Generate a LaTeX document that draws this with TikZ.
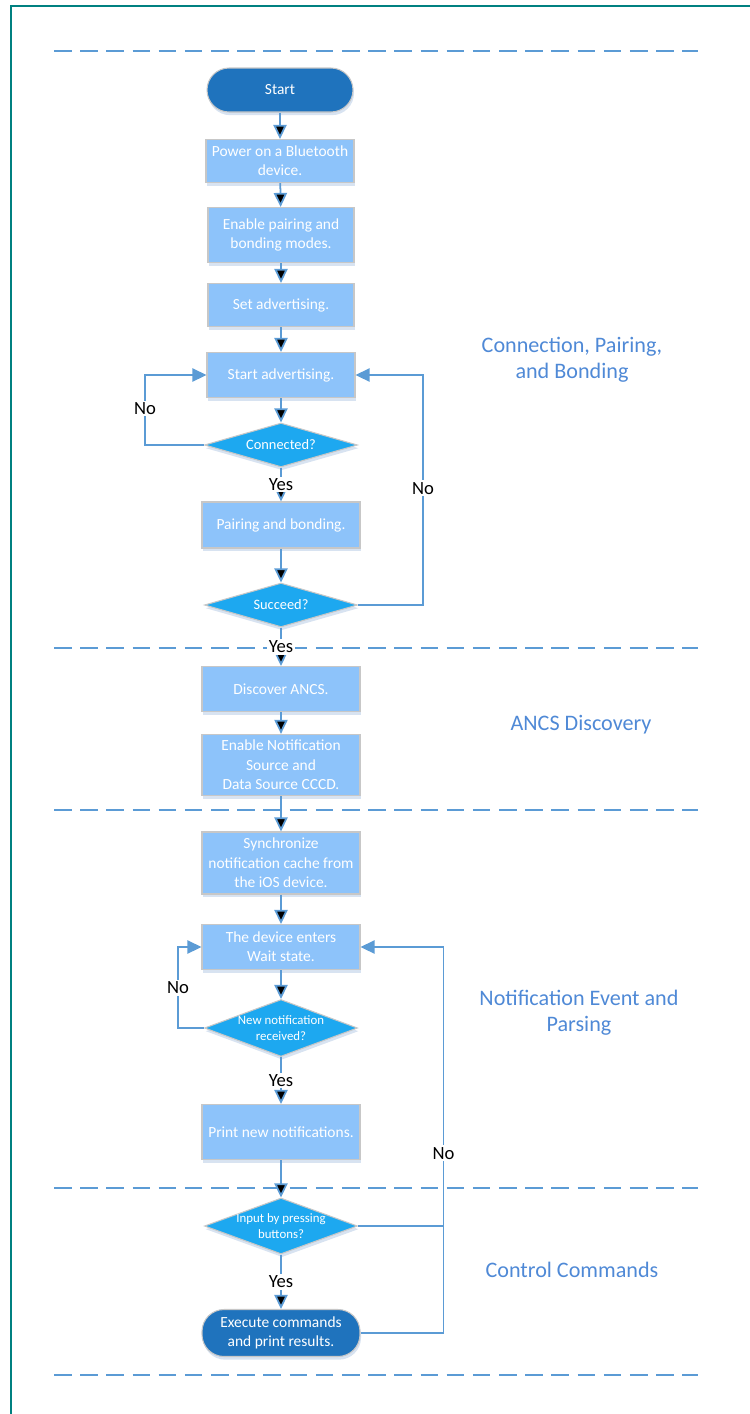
\documentclass[tikz,border=0pt]{standalone}
\usepackage{fontspec}
\setmainfont{Carlito}
\usepackage{tikz}
\usepackage{xcolor}
\usetikzlibrary{shapes, shapes.geometric, arrows.meta, shadows}

\definecolor{termblue}{RGB}{31,115,189}
\definecolor{boxblue}{RGB}{141,195,250}
\definecolor{decblue}{RGB}{29,168,240}
\definecolor{lineblue}{RGB}{91,155,213}
\definecolor{phaseblue}{RGB}{79,137,214}
\definecolor{frameteal}{RGB}{0,128,128}
\definecolor{shade}{RGB}{216,227,241}

\tikzset{
    softshadow/.style={drop shadow={shadow xshift=0.6pt, shadow yshift=-1.8pt, fill=shade, opacity=1}},
    stepbox/.style={rectangle, draw=black!22, line width=0.6pt, fill=boxblue, text=white,
        align=center, font=\fontsize{8.8}{11}\selectfont, minimum width=3.16cm, softshadow},
    terminal/.style={rectangle, rounded corners=0.44cm, draw=black!22, line width=0.6pt,
        fill=termblue, text=white, align=center, font=\fontsize{8.8}{11}\selectfont,
        minimum height=0.88cm, softshadow},
    decision/.style={diamond, aspect=3, inner xsep=-10pt, inner ysep=0pt, draw=black!22,
        line width=0.6pt, fill=decblue, text=white, align=center,
        font=\fontsize{8.2}{9.5}\selectfont, minimum width=3.06cm, minimum height=0.88cm, softshadow},
    flow/.style={draw=lineblue, line width=1pt, -{Triangle[length=8pt, width=7.5pt]}},
    flowline/.style={draw=lineblue, line width=1pt},
    answer/.style={fill=white, inner sep=1pt, text=black, font=\fontsize{10.6}{12}\selectfont},
    phase/.style={text=phaseblue, align=center, font=\fontsize{12.6}{14.7}\selectfont},
    divider/.style={draw=lineblue, line width=1.3pt, dash pattern=on 10pt off 4.9pt},
}

\begin{document}
\begin{tikzpicture}[x=0.02cm, y=-0.02cm]
        \useasboundingbox (0,0) rectangle (750,1414);
        \draw[frameteal, line width=1.2pt] (11,1414) -- (11,6) -- (750,6);

        % section dividers
        \foreach \ly in {51,648,810,1188,1375}
            \draw[divider] (54,\ly) -- (698,\ly);

        % connection, pairing and bonding
        \node[terminal, minimum width=2.92cm] (start) at (280,90) {Start};
        \node[stepbox, minimum width=2.96cm, minimum height=0.86cm] (power) at (280,161) {Power on a Bluetooth\\device.};
        \node[stepbox, minimum width=2.92cm, minimum height=1.1cm] (pairmode) at (281,235) {Enable pairing and\\bonding modes.};
        \node[stepbox, minimum width=2.92cm, minimum height=0.86cm] (setadv) at (281,305) {Set advertising.};
        \node[stepbox, minimum width=2.96cm, minimum height=0.9cm] (startadv) at (281,375) {Start advertising.};
        \node[decision] (connected) at (281,445) {Connected?};
        \node[stepbox, minimum height=0.92cm] (pairbond) at (281,525) {Pairing and bonding.};
        \node[decision] (succeed) at (281,605) {Succeed?};

        % ANCS discovery
        \node[stepbox, minimum height=0.9cm] (discover) at (281,689) {Discover ANCS.};
        \node[stepbox, minimum height=1.2cm] (enablecccd) at (281,765) {Enable Notification\\Source and\\Data Source CCCD.};

        % notification event and parsing
        \node[stepbox, minimum height=1.24cm] (sync) at (281,863) {Synchronize\\notification cache from\\the iOS device.};
        \node[stepbox, minimum height=0.9cm] (wait) at (281,947) {The device enters\\Wait state.};
        \node[decision, minimum height=1.14cm, font=\fontsize{7.3}{9.5}\selectfont] (newnotif) at (281,1028) {New notification\\received?};
        \node[stepbox, minimum height=1.1cm] (printnotif) at (281,1132) {Print new notifications.};

        % control commands
        \node[decision, minimum height=1.12cm, font=\fontsize{7.3}{9.5}\selectfont] (input) at (281,1226) {Input by pressing\\buttons?};
        \node[terminal, minimum width=3.16cm, minimum height=0.94cm] (execute) at (281,1333) {Execute commands\\and print results.};
        \coordinate (rjoin) at (443,1226);

        \node[phase] (phaseone) at (572,360) {Connection, Pairing,\\and Bonding};
        \node[phase] (phasetwo) at (581,725) {ANCS Discovery};
        \node[phase] (phasethree) at (579,1013) {Notification Event and\\Parsing};
        \node[phase] (phasefour) at (572,1270) {Control Commands};

        \draw[flow] (start) edge (power)
            (power) edge (pairmode)
            (pairmode) edge (setadv)
            (setadv) edge (startadv)
            (startadv) edge (connected)
            (pairbond) edge (succeed)
            (discover) edge (enablecccd)
            (enablecccd) edge (sync)
            (sync) edge (wait)
            (wait) edge (newnotif)
            (printnotif) edge (input);
        \draw[flow] (connected) edge node[answer] {Yes} (pairbond)
            (succeed) edge node[answer] {Yes} (discover)
            (newnotif) edge node[answer] {Yes} (printnotif)
            (input) edge node[answer] {Yes} (execute);

        % loops back
        \draw[flow] (connected.west) -- ++(-59,0) |- node[answer, pos=0.26] {No} (startadv.west);
        \draw[flow] (succeed.east) -- ++(65,0) |- node[answer, pos=0.254] {No} (startadv.east);
        \draw[flow] (newnotif.west) -- ++(-26,0) |- node[answer, pos=0.247] {No} (wait.west);
        \draw[flow] (execute.east) -- ++(83,0) |- node[answer, pos=0.233] {No} (wait.east);
        \draw[flowline] (input.east) -- (rjoin);
    \end{tikzpicture}
\end{document}
